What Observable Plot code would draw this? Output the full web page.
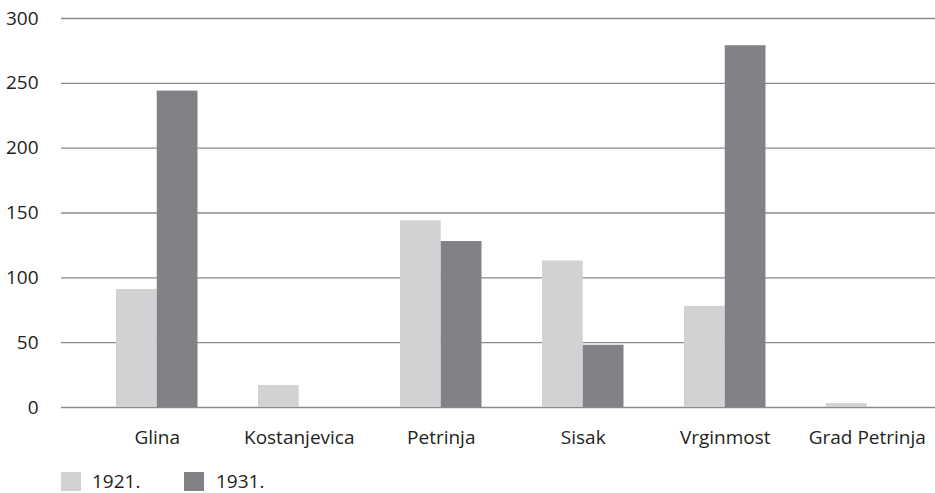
<!DOCTYPE html>
<html>
<head>
<meta charset="utf-8">
<script src="https://cdn.jsdelivr.net/npm/d3@7"></script>
<script src="https://cdn.jsdelivr.net/npm/@observablehq/plot@0.6"></script>
<style>
  html, body { margin: 0; padding: 0; background: #fff; }
  #wrap { position: relative; width: 935px; height: 493px; font-family: "Open Sans", sans-serif; color: #231f20; }
  #chart svg { display: block; }
  .sw { position: absolute; top: 472px; width: 20px; height: 19px; }
  .lb { position: absolute; top: 468px; font-size: 19px; line-height: 26px; }
</style>
</head>
<body>
<div id="wrap">
  <div id="chart"></div>
  <div id="legend"></div>
</div>
<script>
const categories = ["Glina", "Kostanjevica", "Petrinja", "Sisak", "Vrginmost", "Grad Petrinja"];
const v1921 = [91, 17, 144, 113, 78, 3];
const v1931 = [244, 0, 128, 48, 279, 0];
const years = ["1921.", "1931."];
const yTicks = [0, 50, 100, 150, 200, 250, 300];
const colors = ["#d1d2d4", "#818286"];

const d1921 = categories.map((c, i) => ({cat: c, v: v1921[i]}));
const d1931 = categories.map((c, i) => ({cat: c, v: v1931[i]}));

const W = 935, H = 460;
const x0 = 116, x1 = 907.5, pin = 0.426;
const bw = (x1 - x0) / (categories.length - pin) * (1 - pin);

const chart = Plot.plot({
  width: W,
  height: H,
  marginLeft: 61,
  marginRight: 0,
  marginTop: 18,
  marginBottom: 53,
  style: {fontFamily: "Open Sans, sans-serif", fontSize: "19px", color: "#231f20", background: "#fff"},
  x: {domain: categories, range: [x0, x1], paddingInner: pin, paddingOuter: 0, round: false, label: null},
  y: {domain: [0, 300], label: null},
  marks: [
    Plot.ruleY(yTicks, {stroke: "#8a8a8a", strokeWidth: 1.3}),
    Plot.barY(d1921, {x: "cat", y: "v", fill: colors[0], insetRight: bw / 2}),
    Plot.barY(d1931, {x: "cat", y: "v", fill: colors[1], insetLeft: bw / 2}),
    Plot.axisY(yTicks, {tickSize: 0, tickPadding: 23, label: null, fontSize: 19}),
    Plot.axisX({tickSize: 0, tickPadding: 23, label: null, fontSize: 19})
  ]
});
document.getElementById("chart").appendChild(chart);

const legend = document.getElementById("legend");
const swX = [61, 184], lbX = [92, 216];
years.forEach((y, i) => {
  const s = document.createElement("div");
  s.className = "sw"; s.style.left = swX[i] + "px"; s.style.background = colors[i];
  legend.appendChild(s);
  const l = document.createElement("div");
  l.className = "lb"; l.style.left = lbX[i] + "px"; l.textContent = y;
  legend.appendChild(l);
});
</script>
</body>
</html>
